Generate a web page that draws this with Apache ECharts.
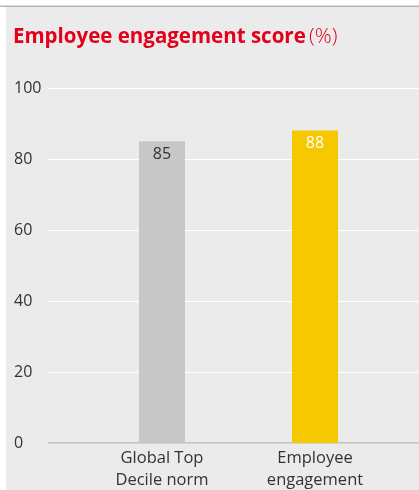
<!DOCTYPE html>
<html>
<head>
<meta charset="utf-8">
<script src="https://cdn.jsdelivr.net/npm/echarts@6/dist/echarts.min.js"></script>
<style>
  html, body { margin: 0; padding: 0; background: #fff; }
  #chart { width: 419px; height: 490px; }
</style>
</head>
<body>
<div id="chart"></div>
<script>
// data
const categories = ['Global Top\nDecile norm', 'Employee\nengagement']
const values = [85, 88]
const barColors = ['#c6c7c6', '#f5c800']
const labelColors = ['#333333', '#ffffff']
const yTicks = [0, 20, 40, 60, 80, 100]

const myChart = echarts.init(document.getElementById('chart'))

const font = '"Open Sans", sans-serif'

const options = {
    backgroundColor: '#ffffff',
    // panel background + top rule + title
    graphic: [
        { type: 'rect', shape: { x: 6, y: 7, width: 413, height: 483 }, style: { fill: '#ebebeb' }, z: -10 },
        { type: 'rect', shape: { x: 0, y: 5.5, width: 419, height: 1.5 }, style: { fill: '#b4b4b4' }, z: -9 },
        {
            type: 'text', left: 13, top: 27,
            style: {
                rich: {
                    b: { fontFamily: font, fontWeight: 'bold', fontSize: 20.5, fill: '#e2001a' },
                    n: { fontFamily: font, fontWeight: 300, fontSize: 21, fill: '#e2001a' }
                },
                text: '{b|Employee engagement score} {n|(%)}'
            }
        }
    ],
    grid: [
        { left: 48, right: 0, top: 88, bottom: 47, outerBoundsMode: 'none' },   // gridlines + y labels
        { left: 85.5, right: 27.5, top: 88, bottom: 47, outerBoundsMode: 'none' } // bars
    ],
    xAxis: [
        {
            gridIndex: 0, type: 'value', show: true, min: 0, max: 1,
            axisLine: { show: false }, axisTick: { show: false },
            axisLabel: { show: false }, splitLine: { show: false }
        },
        {
            gridIndex: 1, type: 'category', data: categories,
            axisLine: { show: false }, axisTick: { show: false },
            axisLabel: { color: '#333333', fontFamily: font, fontSize: 16.5, lineHeight: 22, margin: 4 }
        }
    ],
    yAxis: [
        {
            gridIndex: 0, type: 'value', min: 0, max: 100, interval: 20,
            axisLine: { show: false }, axisTick: { show: false },
            axisLabel: {
                color: '#333333', fontFamily: font, fontSize: 16,
                align: 'left', margin: 34,
                formatter: (v) => (yTicks.includes(v) ? String(v) : '')
            },
            splitLine: { lineStyle: { color: '#ffffff', width: 1 } }
        },
        {
            gridIndex: 1, type: 'value', min: 0, max: 100, interval: 20, show: false
        }
    ],
    series: [
        {
            // baseline at 0
            type: 'line', xAxisIndex: 0, yAxisIndex: 0,
            data: [[0, 0], [1, 0]], symbol: 'none', silent: true,
            lineStyle: { color: '#b4b4b4', width: 1.5 }, z: 1
        },
        {
            type: 'bar', xAxisIndex: 1, yAxisIndex: 1,
            barWidth: 46,
            data: values.map((v, i) => ({
                value: v,
                itemStyle: { color: barColors[i] },
                label: { color: labelColors[i] }
            })),
            label: {
                show: true, position: 'insideTop', distance: 5,
                fontFamily: font, fontSize: 16
            },
            z: 2
        }
    ]
}

myChart.setOption(options)
</script>
</body>
</html>
